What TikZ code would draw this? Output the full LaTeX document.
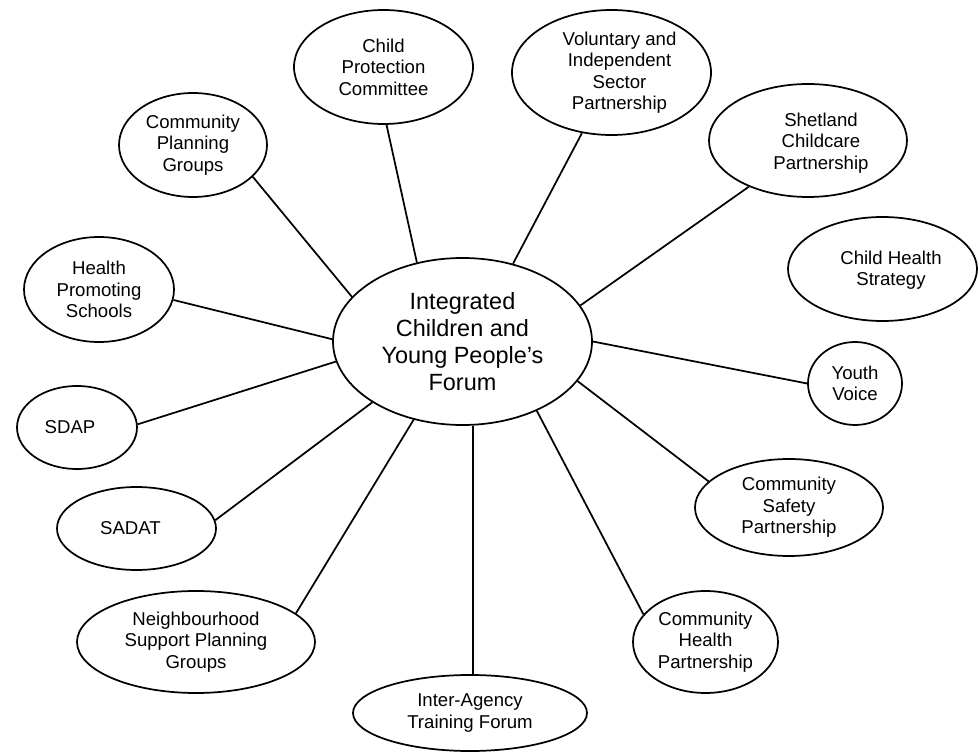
\documentclass[tikz,border=0pt]{standalone}
\usepackage{fontspec}
\setmainfont{Liberation Sans}
\usetikzlibrary{shapes.geometric}
\tikzset{
  ell/.style={draw, ellipse, line width=1.3pt, inner sep=0pt, align=center,
    font=\fontsize{13.95}{16.1}\selectfont},
  txt/.style={align=center, inner sep=0pt, font=\fontsize{13.95}{16.1}\selectfont},
  hub/.style={draw, ellipse, line width=1.3pt, inner sep=0pt, align=center,
    font=\fontsize{17.6}{20.25}\selectfont},
  link/.style={line width=1.3pt}
}
\begin{document}
\begin{tikzpicture}[x=0.75pt,y=-0.75pt]
\useasboundingbox (0,0) rectangle (979,752);
% hub
\node[hub, minimum width=194.25pt, minimum height=125.25pt] (c) at (462.5,341.5)
  {Integrated\\Children and\\Young People’s\\Forum};
% satellites
\node[ell, minimum width=134.25pt, minimum height=85.5pt] (cpc) at (383.5,67)
  {Child\\Protection\\Committee};
\node[ell, minimum width=111pt, minimum height=78pt] (cpg) at (193,145)
  {Community\\Planning\\Groups};
\node[ell, minimum width=149.25pt, minimum height=93.75pt] (vol) at (611.5,72.5) {};
\node[txt] (volt) at (619.5,72.5) {Voluntary and\\Independent\\Sector\\Partnership};
\node[ell, minimum width=148.5pt, minimum height=84.75pt] (shet) at (808,140.5) {};
\node[txt] (shett) at (821,143) {Shetland\\Childcare\\Partnership};
\node[ell, minimum width=141.75pt, minimum height=78pt] (chs) at (882.5,269) {};
\node[txt] (chst) at (891,270) {Child Health\\Strategy};
\node[ell, minimum width=112.5pt, minimum height=78.75pt] (hps) at (99,289.5)
  {Health\\Promoting\\Schools};
\node[ell, minimum width=90pt, minimum height=62.25pt] (sdap) at (77,427.5) {};
\node[txt] (sdapt) at (70,427.5) {SDAP};
\node[ell, minimum width=70.5pt, minimum height=62.25pt] (yv) at (855,383.5)
  {Youth\\Voice};
\node[ell, minimum width=141pt, minimum height=72.75pt] (csp) at (789,507.5)
  {Community\\Safety\\Partnership};
\node[ell, minimum width=119.25pt, minimum height=62.25pt] (sadat) at (136.5,528.5) {};
\node[txt] (sadatt) at (130.5,528.5) {SADAT};
\node[ell, minimum width=178.5pt, minimum height=76.5pt] (nsp) at (196,642)
  {Neighbourhood\\Support Planning\\Groups};
\node[ell, minimum width=108.75pt, minimum height=76.5pt] (chp) at (705.5,642)
  {Community\\Health\\Partnership};
\node[ell, minimum width=175.5pt, minimum height=57pt] (iat) at (470,713)
  {Inter-Agency\\Training Forum};
% connectors
\draw[link] (c.120.1) -- (cpc.273.5);
\draw[link] (c.158.5) -- (cpg.332.7);
\draw[link] (c.57.4) -- (vol.244.4);
\draw[link] (c.17.9) -- (shet.218.9);
\draw[link] (c.179.8) -- (hps.352.1);
\draw[link] (c.189.7) -- (sdap.3.3);
\draw[link] (c.214.5) -- (sadat.6.2);
\draw[link] (c.238.4) -- (nsp.16.7);
\draw[link] (c.277.2) -- (c.277.2 |- iat.north);
\draw[link] (c.317.4) -- (chp.156.6);
\draw[link] (c.341.1) -- (csp.162.6);
\draw[link] (c.0) -- (yv.180);
\end{tikzpicture}
\end{document}
